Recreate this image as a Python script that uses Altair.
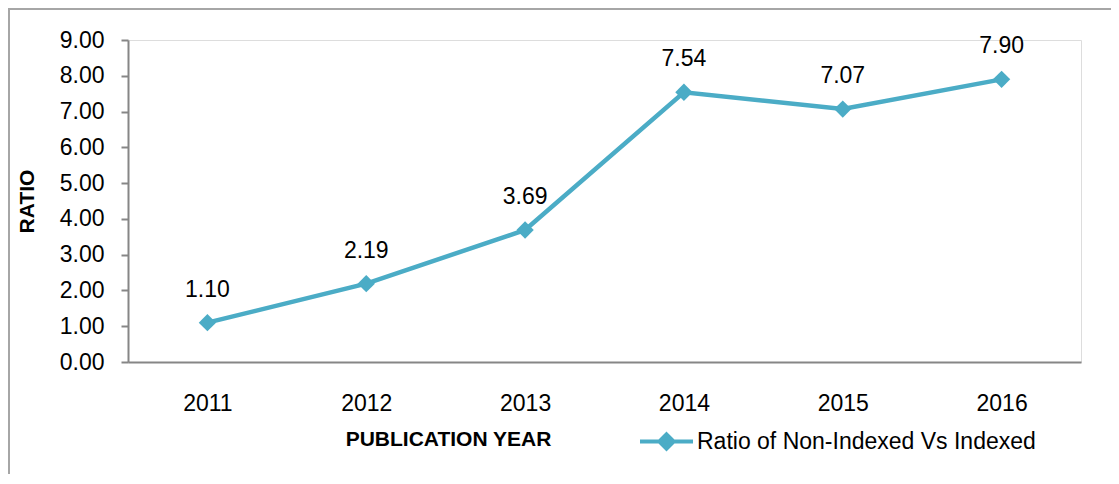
import altair as alt
import pandas as pd

# ---- data ----
years = ["2011", "2012", "2013", "2014", "2015", "2016"]
ratios = [1.10, 2.19, 3.69, 7.54, 7.07, 7.90]
series_name = "Ratio of Non-Indexed Vs Indexed"
y_ticks = [0, 1, 2, 3, 4, 5, 6, 7, 8, 9]

df = pd.DataFrame({"year": years, "ratio": ratios, "series": [series_name] * len(years)})

teal = "#4BACC6"
axis_gray = "#868686"
num_font = "Liberation Sans"
title_font = "Liberation Sans"

x_enc = alt.X(
    "year:O",
    scale=alt.Scale(type="point", padding=0.5),
    axis=alt.Axis(
        title="PUBLICATION YEAR",
        labelAngle=0,
        ticks=False,
        labelPadding=30,
        labelFont=num_font,
        labelFontSize=23,
        labelColor="black",
        labelOverlap=False,
        domainColor=axis_gray,
        domainWidth=2,
        titleFont=title_font,
        titleFontSize=21,
        titleFontWeight="bold",
        titleColor="black",
        titleX=320,
        titleY=83,
        titleAlign="center",
        titleBaseline="alphabetic",
    ),
)
y_enc = alt.Y(
    "ratio:Q",
    scale=alt.Scale(domain=[0, 9], nice=False, zero=True),
    axis=alt.Axis(
        values=y_ticks,
        tickCount=10,
        format=".2f",
        grid=False,
        tickSize=7,
        tickColor=axis_gray,
        tickWidth=2,
        labelPadding=17,
        labelFont=num_font,
        labelFontSize=23,
        labelColor="black",
        labelOverlap=False,
        domainColor=axis_gray,
        domainWidth=2,
        title="RATIO",
        titleFont=title_font,
        titleFontSize=21,
        titleFontWeight="bold",
        titleColor="black",
        titleAngle=270,
        titleX=-101,
        titleY=161,
        titleAlign="center",
        titleBaseline="middle",
    ),
)

base = alt.Chart(df)

frame = alt.Chart(pd.DataFrame({"k": [0]})).mark_rect(
    fill="transparent", stroke="#A6A6A6", strokeWidth=2
).encode(x=alt.value(-119), x2=alt.value(1300), y=alt.value(-31), y2=alt.value(700))

line = base.mark_line(color=teal, strokeWidth=4.5).encode(x=x_enc, y=y_enc)

legend_symbol = "M-1,0L1,0M0,-0.27L0.27,0L0,0.27L-0.27,0Z"

points = base.mark_point(shape="diamond", filled=True, size=300, opacity=1).encode(
    x=x_enc,
    y=y_enc,
    color=alt.Color(
        "series:N",
        scale=alt.Scale(domain=[series_name], range=[teal]),
        legend=alt.Legend(
            title=None,
            orient="none",
            legendX=510,
            legendY=373,
            symbolType=legend_symbol,
            symbolSize=2809,
            symbolStrokeWidth=4,
            symbolStrokeColor=teal,
            symbolFillColor=teal,
            labelFont=num_font,
            labelFontSize=23,
            labelColor="black",
            labelOffset=2,
            labelLimit=600,
        ),
    ),
)

labels = base.mark_text(
    dy=-26, baseline="alphabetic", fontSize=23, font=num_font, color="black"
).encode(x=x_enc, y=y_enc, text=alt.Text("ratio:Q", format=".2f"))

chart = (
    alt.layer(frame, line, points, labels)
    .properties(
        width=953,
        height=322,
        autosize=alt.AutoSizeParams(type="none"),
        padding={"left": 120, "top": 32, "right": 30, "bottom": 112},
    )
    .configure_view(stroke=None)
    .configure(background="white")
)

chart.save("out.html", embed_options={"renderer": "svg", "actions": False})
